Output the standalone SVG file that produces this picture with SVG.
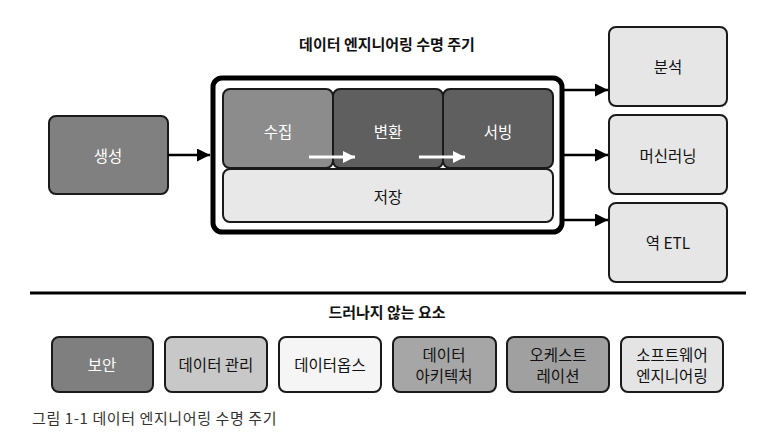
<svg xmlns="http://www.w3.org/2000/svg" width="768" height="436" viewBox="0 0 768 436">
<style>
text{font-family:"Noto Sans CJK KR","Noto Sans",sans-serif;font-size:15.5px;text-anchor:middle;dominant-baseline:central;fill:#111}
.w{fill:#fff}
.b{font-weight:bold;font-size:15px}
.box{stroke:#1a1a1a;stroke-width:2}
.con{stroke:#000;stroke-width:2.5;fill:none}
</style>
<defs>
<marker id="ah" viewBox="0 0 13 13" refX="13" refY="6.5" markerWidth="13" markerHeight="13" markerUnits="userSpaceOnUse" orient="auto">
<path d="M0,0 L13,6.5 L0,13 Z" fill="#000"/>
</marker>
<marker id="wh" viewBox="0 0 12 12" refX="12" refY="6" markerWidth="12" markerHeight="12" markerUnits="userSpaceOnUse" orient="auto">
<path d="M0,0 L12,6 L0,12 Z" fill="#fff"/>
</marker>
</defs>
<rect width="768" height="436" fill="#fff"/>
<text class="b" x="387" y="43">데이터 엔지니어링 수명 주기</text>

<g id="lifecycle">
<rect x="213" y="78" width="349" height="154" rx="9" fill="#fff" stroke="#000" stroke-width="5"/>
</g>
<g id="n-collect"><rect class="box" x="223" y="89" width="110" height="79" rx="7" fill="#8c8c8c"/><text class="w" x="278" y="131">수집</text></g>
<g id="n-transform"><rect class="box" x="333" y="89" width="110" height="79" rx="7" fill="#5f5f5f"/><text class="w" x="388" y="131">변환</text></g>
<g id="n-serve"><rect class="box" x="443" y="89" width="110" height="79" rx="7" fill="#5f5f5f"/><text class="w" x="498" y="131">서빙</text></g>
<g id="n-store"><rect class="box" x="223" y="169" width="330" height="53" rx="7" fill="#e8e8e8"/><text x="388" y="196">저장</text></g>

<g id="n-gen"><rect class="box" x="49" y="116" width="119" height="78" rx="7" fill="#808080"/><text class="w" x="108" y="155">생성</text></g>
<g id="n-analysis"><rect class="box" x="609" y="27" width="118" height="79" rx="7" fill="#e6e6e6"/><text x="668" y="66">분석</text></g>
<g id="n-ml"><rect class="box" x="609" y="115" width="118" height="79" rx="7" fill="#e6e6e6"/><text x="668" y="155">머신러닝</text></g>
<g id="n-retl"><rect class="box" x="609" y="203" width="118" height="79" rx="7" fill="#e6e6e6"/><text x="668" y="242">역 ETL</text></g>

<g id="connectors">
<line class="con" x1="168" y1="155" x2="210" y2="155" marker-end="url(#ah)"/>
<line class="con" x1="563" y1="90" x2="608" y2="90" marker-end="url(#ah)"/>
<line class="con" x1="563" y1="155" x2="608" y2="155" marker-end="url(#ah)"/>
<line class="con" x1="563" y1="220" x2="608" y2="220" marker-end="url(#ah)"/>
<line x1="309" y1="157" x2="355" y2="157" stroke="#fff" stroke-width="3" marker-end="url(#wh)"/>
<line x1="419" y1="157" x2="465" y2="157" stroke="#fff" stroke-width="3" marker-end="url(#wh)"/>
</g>

<line x1="30" y1="293" x2="746" y2="293" stroke="#000" stroke-width="3"/>
<text class="b" x="387" y="311">드러나지 않는 요소</text>

<g id="u-security"><rect class="box" x="52" y="337" width="101" height="55" rx="7" fill="#7f7f7f"/><text class="w" x="102" y="364">보안</text></g>
<g id="u-datamgmt"><rect class="box" x="165" y="337" width="102" height="55" rx="7" fill="#c8c8c8"/><text x="216" y="364">데이터 관리</text></g>
<g id="u-dataops"><rect class="box" x="279" y="337" width="102" height="55" rx="7" fill="#f5f5f5"/><text x="330" y="364">데이터옵스</text></g>
<g id="u-arch"><rect class="box" x="393" y="337" width="103" height="55" rx="7" fill="#a6a6a6"/><text x="444" y="354">데이터</text><text x="444" y="375">아키텍처</text></g>
<g id="u-orch"><rect class="box" x="507" y="337" width="102" height="55" rx="7" fill="#a0a0a0"/><text x="558" y="354">오케스트</text><text x="558" y="375">레이션</text></g>
<g id="u-swe"><rect class="box" x="621" y="337" width="102" height="55" rx="7" fill="#e4e4e4"/><text x="672" y="354">소프트웨어</text><text x="672" y="375">엔지니어링</text></g>

<text x="32" y="417" style="text-anchor:start;font-size:15px;fill:#333;letter-spacing:0.6px">그림 1-1 데이터 엔지니어링 수명 주기</text>
</svg>
